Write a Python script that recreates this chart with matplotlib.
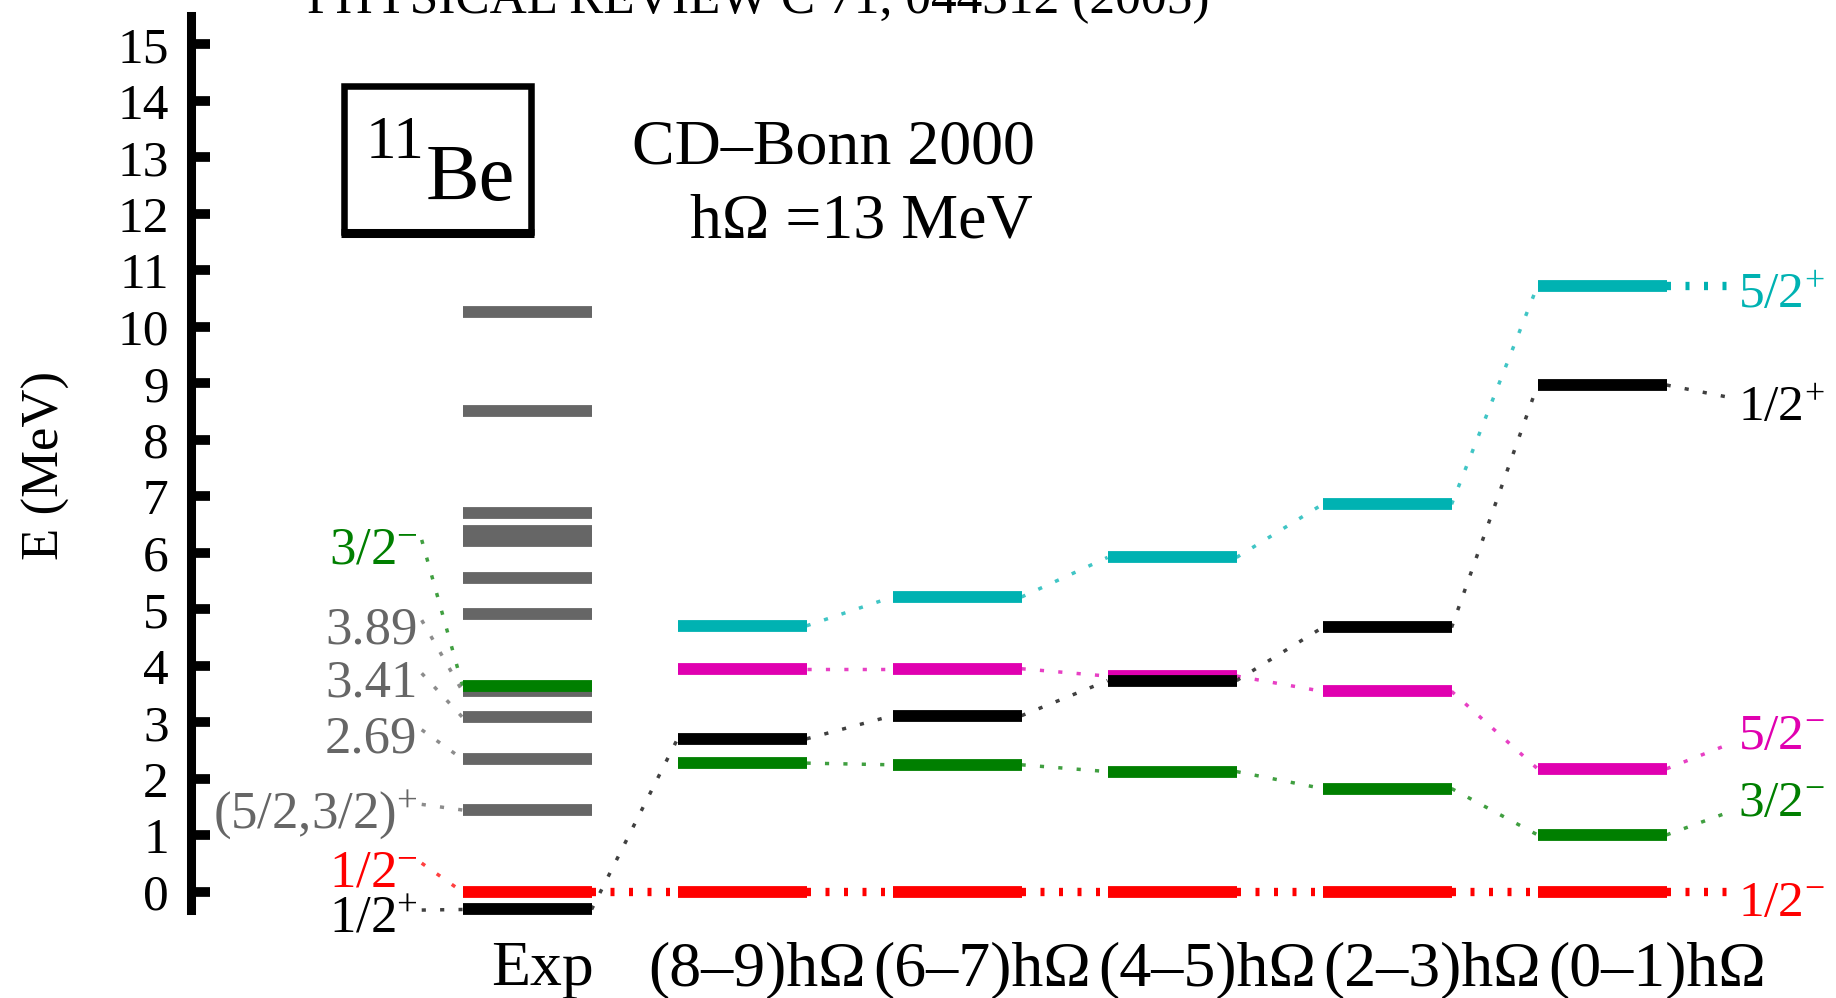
import numpy as np
import matplotlib.pyplot as plt
from matplotlib.patches import Rectangle

plt.rcParams['font.family'] = ['Liberation Serif', 'DejaVu Serif']
plt.rcParams['mathtext.fontset'] = 'custom'
plt.rcParams['mathtext.rm'] = 'Liberation Serif'
plt.rcParams['mathtext.it'] = 'Liberation Serif:italic'

# experimental levels (MeV, relative to 1/2-)
exp_gray = [10.27, 8.51, 6.71, 6.38, 6.21, 5.55, 4.91, 3.55, 3.09, 2.35, 1.45]
exp_green = 3.65
exp_red = 0.0
exp_black = -0.31

exp_labels = ['3/2$^{-}$', '3.89', '3.41', '2.69', '(5/2,3/2)$^{+}$',
              '1/2$^{-}$', '1/2$^{+}$']
exp_label_colors = ['green', 'gray', 'gray', 'gray', 'gray', 'red', 'black']
exp_label_E = [6.13, 4.71, 3.77, 2.77, 1.45, 0.41, -0.42]
exp_label_target = [3.65, 3.55, 3.09, 2.35, 1.45, 0.0, -0.31]

# NCSM results, columns (8-9) ... (0-1)
col_labels = ['(8–9)hΩ', '(6–7)hΩ', '(4–5)hΩ', '(2–3)hΩ', '(0–1)hΩ']
cyan_52p = [4.71, 5.22, 5.92, 6.86, 10.73]
magenta_52m = [3.95, 3.95, 3.82, 3.55, 2.18]
black_12p = [2.71, 3.12, 3.74, 4.68, 8.97]
green_32m = [2.28, 2.25, 2.13, 1.83, 1.01]
red_12m = [0.0, 0.0, 0.0, 0.0, 0.0]

right_labels = ['5/2$^{+}$', '1/2$^{+}$', '5/2$^{-}$', '3/2$^{-}$', '1/2$^{-}$']
right_label_E = [10.65, 8.65, 2.84, 1.66, -0.11]
right_target = [10.73, 8.76, 2.60, 1.40, 0.0]

COL = {'cyan': '#00b2b2', 'magenta': '#e000b0', 'black': '#000000',
       'green': '#007f00', 'red': '#ff0000', 'gray': '#666666'}

W, H = 1836, 998
fig = plt.figure(figsize=(W / 100, H / 100), dpi=100)


def fx(px):
    return px / W


def fy(py):
    return 1 - py / H


ax = fig.add_axes([fx(191), fy(910), 1 - fx(191), (910 - 16) / H])
ax.set_xlim(-1.563, 6.088)
ax.set_ylim(-0.319, 15.5)
for s in ['top', 'right', 'bottom']:
    ax.spines[s].set_visible(False)
ax.spines['left'].set_linewidth(6.5)
ax.set_xticks([])
ax.set_yticks(range(16))
ax.tick_params(axis='y', direction='in', length=14, width=7,
               labelsize=37, pad=16)
fig.text(fx(46), fy(465), 'E (MeV)', rotation=90, ha='center', va='center',
         fontsize=38)

HW = 0.3
BAR_LW = 8.5
THIN = dict(lw=2.5, ls=(0, (1.2, 4.1)), alpha=0.75, clip_on=False)
THICK = dict(lw=6, ls=(0, (0.48, 1.74)), clip_on=False)


def bar(x, e, c):
    ax.hlines(e, x - HW, x + HW, colors=COL[c], lw=BAR_LW,
              capstyle='butt', clip_on=False)


# experiment column
for e in exp_gray:
    bar(0, e, 'gray')
bar(0, exp_green, 'green')
bar(0, exp_red, 'red')
bar(0, exp_black, 'black')

for lab, c, e, t in zip(exp_labels, exp_label_colors, exp_label_E,
                        exp_label_target):
    ax.text(-0.51, e - 0.31, lab, ha='right', va='baseline', color=COL[c],
            fontsize=38)
    ax.plot([-0.49, -HW], [e + 0.1, t], color=COL[c], **THIN)

# calculated columns
xs = np.arange(1, 6)
series = [(cyan_52p, 'cyan'), (magenta_52m, 'magenta'),
          (black_12p, 'black'), (green_32m, 'green'), (red_12m, 'red')]
for vals, c in series:
    style = THICK if c == 'red' else THIN
    for x, e in zip(xs, vals):
        bar(x, e, c)
    for i in range(len(vals) - 1):
        ax.plot([xs[i] + HW, xs[i + 1] - HW], [vals[i], vals[i + 1]],
                color=COL[c], **style)

# experiment -> first column connectors
ax.plot([HW, 1 - HW], [exp_black, black_12p[0]], color=COL['black'], **THIN)
ax.plot([HW, 1 - HW], [exp_red, red_12m[0]], color=COL['red'], **THICK)

# right-hand labels
right_colors = ['cyan', 'black', 'magenta', 'green', 'red']
for lab, c, e, t, vals in zip(right_labels, right_colors, right_label_E,
                              right_target,
                              [cyan_52p, black_12p, magenta_52m, green_32m,
                               red_12m]):
    style = THICK if c in ('red', 'cyan') else THIN
    ax.plot([5 + HW, 5.58], [vals[-1], t], color=COL[c], **style)
    ax.text(5.63, e - 0.31, lab, ha='left', va='baseline', color=COL[c],
            fontsize=37)

# column labels
tr = ax.get_xaxis_transform()
ax.text(0.07, -0.084, 'Exp', transform=tr, ha='center', va='baseline',
        fontsize=46)
for i, lab in enumerate(col_labels):
    ax.text(1.07 + 1.047 * i, -0.084, lab, transform=tr, ha='center',
            va='baseline', fontsize=46)

# header texts
fig.text(fx(307), fy(13), 'PHYSICAL REVIEW C 71, 044312 (2005)',
         fontsize=37, ha='left', va='baseline')
fig.text(fx(1035), fy(163), 'CD–Bonn 2000', fontsize=46, ha='right',
         va='baseline')
fig.text(fx(1033), fy(238), 'hΩ =13 MeV', fontsize=46, ha='right',
         va='baseline')

fig.patches.append(Rectangle((fx(344), fy(232)), fx(531) - fx(344),
                             fy(86) - fy(232), transform=fig.transFigure,
                             fill=False, lw=4.7, ec='black'))
fig.add_artist(plt.Line2D([fx(341), fx(534)], [fy(233), fy(233)],
                          transform=fig.transFigure, lw=6.5, color='black',
                          solid_capstyle='butt'))
fig.text(fx(366), fy(158), '11', fontsize=44, ha='left', va='baseline')
fig.text(fx(426), fy(200), 'Be', fontsize=58, ha='left', va='baseline')

fig.savefig('out.png', dpi=100)
